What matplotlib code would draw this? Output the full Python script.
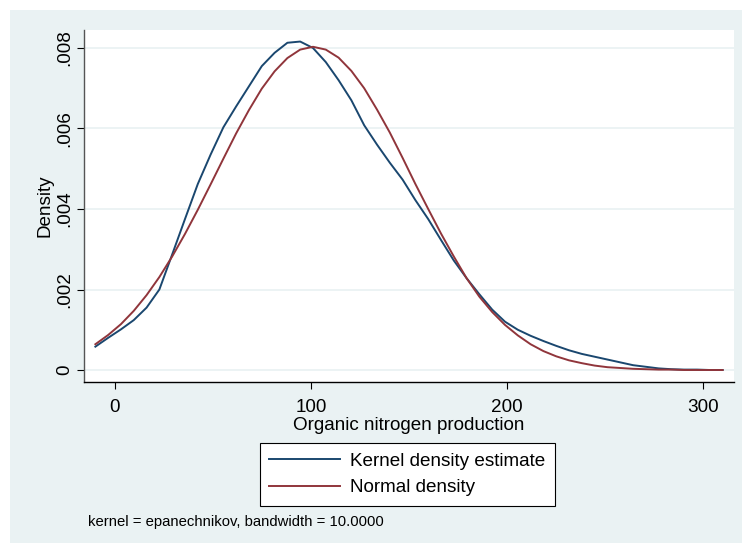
import numpy as np
import matplotlib
matplotlib.use("Agg")
import matplotlib.pyplot as plt
from matplotlib.patches import Rectangle

# evaluation grid: 50 points from -10 to 310
grid_start = -10
grid_end = 310
n_points = 50

kde_values = [
    0.00058, 0.00080, 0.00101, 0.00124, 0.00155, 0.00200, 0.00287, 0.00375,
    0.00462, 0.00535, 0.00603, 0.00655, 0.00705, 0.00755, 0.00788, 0.00813,
    0.00816, 0.00800, 0.00765, 0.00720, 0.00670, 0.00608, 0.00560, 0.00515,
    0.00473, 0.00422, 0.00375, 0.00323, 0.00272, 0.00228, 0.00188, 0.00150,
    0.00120, 0.00100, 0.00085, 0.00072, 0.00060, 0.00049, 0.00040, 0.00033,
    0.00026, 0.00019, 0.00012, 0.00008, 0.00004, 0.00002, 0.00001, 0.00001,
    0.00000, 0.00000,
]
normal_values = [
    0.00064, 0.00087, 0.00114, 0.00147, 0.00186, 0.00231, 0.00282, 0.00338,
    0.00398, 0.00461, 0.00525, 0.00588, 0.00646, 0.00699, 0.00742, 0.00775,
    0.00796, 0.00803, 0.00796, 0.00776, 0.00743, 0.00700, 0.00647, 0.00590,
    0.00527, 0.00462, 0.00400, 0.00339, 0.00282, 0.00228, 0.00182, 0.00144,
    0.00112, 0.00086, 0.00064, 0.00047, 0.00034, 0.00024, 0.00017, 0.00011,
    0.00007, 0.00005, 0.00003, 0.00002, 0.00001, 0.00001, 0.00000, 0.00000,
    0.00000, 0.00000,
]

x_ticks = [0, 100, 200, 300]
y_ticks = [0, 0.002, 0.004, 0.006, 0.008]
y_tick_labels = ["0", ".002", ".004", ".006", ".008"]

series_labels = ["Kernel density estimate", "Normal density"]
x_title = "Organic nitrogen production"
y_title = "Density"
note = "kernel = epanechnikov, bandwidth = 10.0000"

blue = "#1A476F"
red = "#90353B"
bg = "#EAF2F3"
fs = 13.6

plt.rcParams["font.family"] = ["Liberation Sans", "DejaVu Sans"]

W, H = 742, 543
fig = plt.figure(figsize=(W / 100, H / 100), dpi=100)
fig.patch.set_facecolor("white")
fig.patches.append(Rectangle((10 / W, 0), 1 - 10 / W, 1 - 10 / H,
                             transform=fig.transFigure, facecolor=bg,
                             edgecolor="none", zorder=-10))

ax = fig.add_axes([84 / W, 1 - 382 / H, 650 / W, 352 / H])
ax.set_facecolor("white")

x = np.linspace(grid_start, grid_end, n_points)
ax.plot(x, kde_values, color=blue, lw=1.4, label=series_labels[0], zorder=3)
ax.plot(x, normal_values, color=red, lw=1.4, label=series_labels[1], zorder=3)

ax.set_xlim(-15.8, 315.8)
ax.set_ylim(-0.000298, 0.008447)

ax.set_xticks(x_ticks)
ax.set_xticklabels([str(t) for t in x_ticks])
ax.set_yticks(y_ticks)
ax.set_yticklabels(y_tick_labels, rotation=90, va="center")
ax.tick_params(axis="both", length=5, width=0.8, color="black", labelsize=fs)
ax.tick_params(axis="x", pad=7)
ax.tick_params(axis="y", pad=3)
ax.yaxis.grid(True, color=bg, lw=1.3)
ax.set_axisbelow(True)

for s in ["top", "right"]:
    ax.spines[s].set_visible(False)
ax.spines["left"].set_color("#555555")
ax.spines["bottom"].set_color("black")
ax.spines["left"].set_linewidth(1.0)
ax.spines["bottom"].set_linewidth(1.0)

ax.set_xlabel(x_title, fontsize=fs, labelpad=1)
ax.set_ylabel(y_title, fontsize=fs, labelpad=2)

leg = ax.legend(loc="upper left", bbox_to_anchor=(260 / W, 1 - 443 / H),
                bbox_transform=fig.transFigure, fontsize=fs, frameon=True,
                fancybox=False, edgecolor="black", framealpha=1,
                borderaxespad=0, handlelength=3.76, handletextpad=0.53,
                labelspacing=0.5, borderpad=0.5)
leg.get_frame().set_linewidth(0.8)

fig.text(88 / W, 1 - 522 / H, note, fontsize=10.7, va="center", ha="left")

fig.savefig("out.png", dpi=100)
